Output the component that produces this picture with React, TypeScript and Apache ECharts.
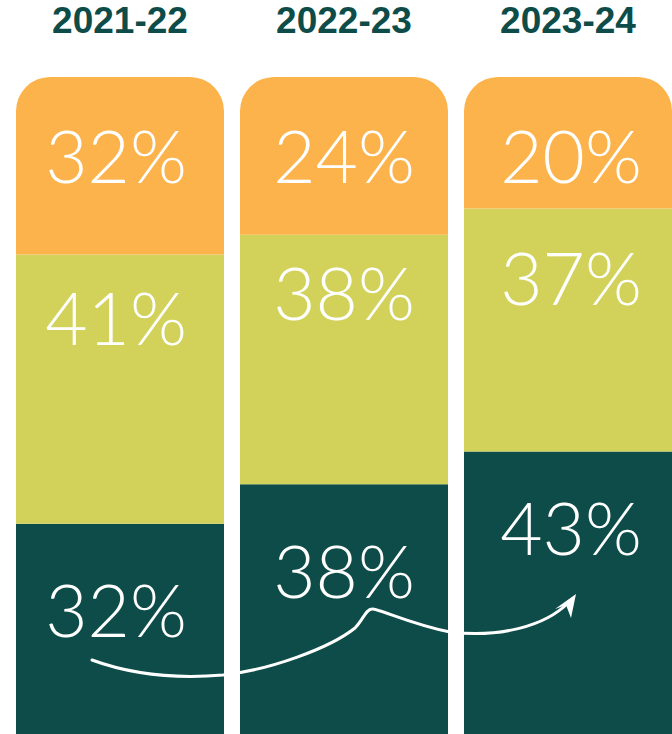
import React, { useEffect, useRef } from "react";
import * as echarts from "echarts";

// ---- data ----
const categories = ["2021-22", "2022-23", "2023-24"];
const darkValues = [32, 38, 43]; // bottom segment
const yellowValues = [41, 38, 37]; // middle segment
const orangeValues = [27, 24, 20]; // top segment, as drawn
const orangeLabels = [32, 24, 20]; // top segment, as printed

// ---- layout / style (not data) ----
const COLORS = { dark: "#0E4C4A", yellow: "#D2D25A", orange: "#FCB34C" };
const labelYOffset = { orange: [78, 78, 78], yellow: [63, 57, 69], dark: [85, 86, 76] };
const labelXOffset = [-4, 0, 3];

const arrowPath =
  "M92,660 C130,674 175,679 223,675 C270,670 330,648 355,628 C363,620 366,609 372,609 C380,609 410,624 450,632 C500,638 545,626 568,603";
echarts.graphic.registerShape("trendArrow", echarts.graphic.extendPath(arrowPath, {}));

const makeData = (vals: number[], texts: number[], key: "orange" | "yellow" | "dark") =>
  vals.map((v, i) => ({
    value: v,
    label: {
      position: [`50%`, labelYOffset[key][i]],
      offset: [labelXOffset[i], 0],
      formatter: `${texts[i]}%`,
    },
  }));

const labelStyle = {
  show: true,
  align: "center",
  verticalAlign: "middle",
  color: "#FFFFFF",
  fontSize: 73,
  fontWeight: 300,
  fontFamily: "Lato, 'Open Sans', sans-serif",
};

export default function App() {
  const ref = useRef<HTMLDivElement>(null);
  useEffect(() => {
    if (!ref.current) return;
    const chart = echarts.init(ref.current, null, { renderer: "svg" });
    chart.setOption({
      animation: false,
      backgroundColor: "#FFFFFF",
      grid: { left: 8, top: 77, width: 672, height: 657, containLabel: false },
      xAxis: {
        type: "category",
        position: "top",
        data: categories,
        axisLine: { show: false },
        axisTick: { show: false },
        axisLabel: {
          margin: 57,
          verticalAlign: "middle",
          fontSize: 37,
          fontWeight: "bold",
          fontFamily: "'Liberation Sans', Arial, sans-serif",
          color: COLORS.dark,
        },
      },
      yAxis: { type: "value", min: 0, max: 100, show: false },
      series: [
        {
          type: "bar",
          stack: "total",
          barWidth: 208,
          data: makeData(darkValues, darkValues, "dark"),
          itemStyle: { color: COLORS.dark },
          label: labelStyle,
        },
        {
          type: "bar",
          stack: "total",
          barWidth: 208,
          data: makeData(yellowValues, yellowValues, "yellow"),
          itemStyle: { color: COLORS.yellow },
          label: labelStyle,
        },
        {
          type: "bar",
          stack: "total",
          barWidth: 208,
          data: makeData(orangeValues, orangeLabels, "orange"),
          itemStyle: { color: COLORS.orange, borderRadius: [34, 34, 0, 0] },
          label: labelStyle,
        },
      ],
      graphic: [
        {
          type: "trendArrow",
          x: 0,
          y: 0,
          z: 100,
          style: { stroke: "#FFFFFF", fill: "none", lineWidth: 3, lineCap: "round" },
        },
        {
          type: "polygon",
          z: 100,
          shape: { points: [[576, 594], [555, 609], [566, 605], [571, 618]] },
          style: { fill: "#FFFFFF" },
        },
      ],
    });
    return () => chart.dispose();
  }, []);
  return (
    <div
      style={{
        position: "absolute",
        left: 0,
        top: 0,
        width: 672,
        height: 734,
        overflow: "hidden",
        background: "#fff",
      }}
    >
      <div ref={ref} style={{ width: 688, height: 734 }} />
    </div>
  );
}
